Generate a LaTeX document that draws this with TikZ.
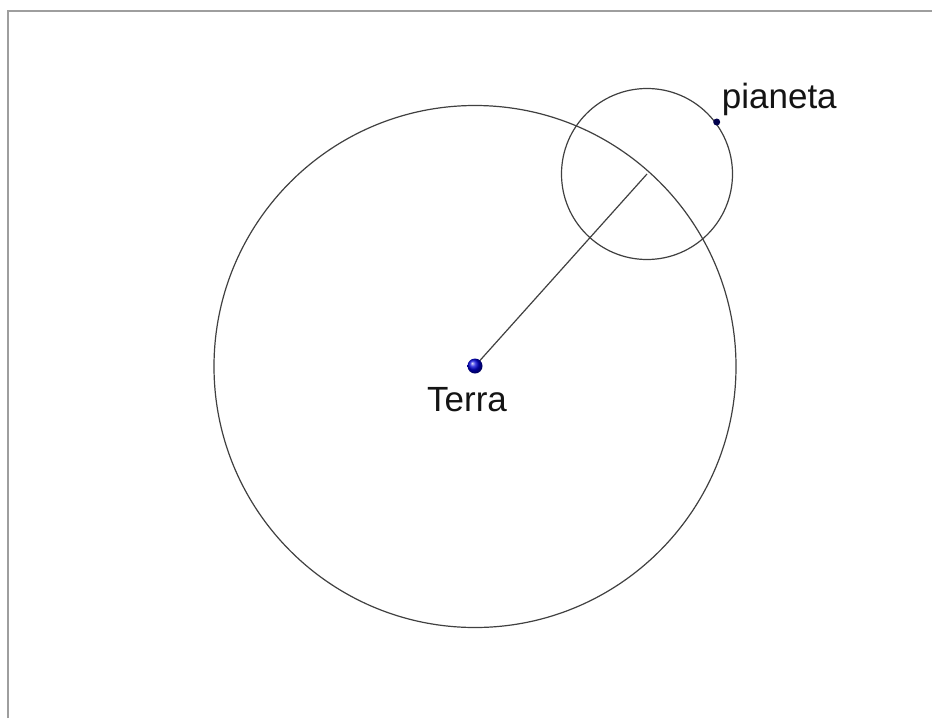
\documentclass[tikz,border=0pt]{standalone}
\usepackage{fontspec}
\setmainfont{Liberation Sans}
\begin{document}
\begin{tikzpicture}[x=1pt,y=-1pt,
  orbitline/.style={draw=black!75, line width=1.2pt, circle, inner sep=0pt},
  lbl/.style={font=\fontsize{35}{42}\selectfont, text=black!92, inner sep=0pt}]
\useasboundingbox (0,0) rectangle (932,718);
\fill[white] (0,0) rectangle (932,718);
\draw[black!38, line width=2pt] (8,718) -- (8,11) -- (932,11);
% deferent
\node[orbitline, minimum size=522pt] (deferent) at (475,366.5) {};
% epicycle
\coordinate (epic) at (647,174);
\node[orbitline, minimum size=171pt] (epicycle) at (epic) {};
% earth
\node[circle, minimum size=15pt, inner sep=0pt] (earth) at (475,366) {};
\draw[black!75, line width=1.2pt] (earth.center) -- (epic);
\shade[ball color=blue!85!black] (earth.center) circle (7.5pt);
% planet
\node[circle, fill=blue!30!black, minimum size=7pt, inner sep=0pt] (planet) at (716.7,122) {};
\node[lbl, anchor=base] (terra) at (467,411.7) {Terra};
\node[lbl, anchor=base west] (pianeta) at (721.7,108.3) {pianeta};
\end{tikzpicture}
\end{document}
